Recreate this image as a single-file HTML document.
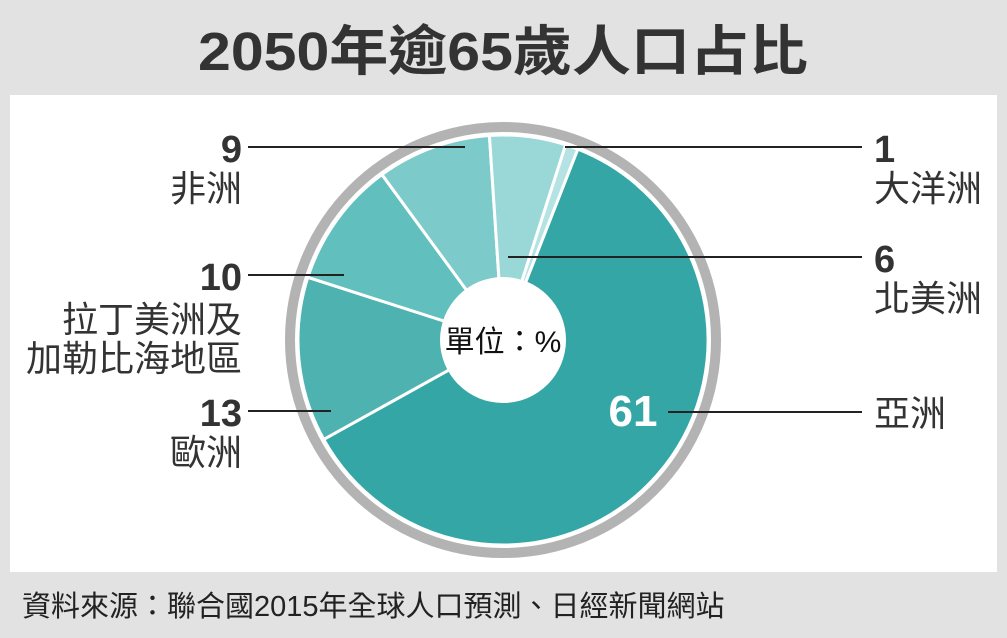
<!DOCTYPE html>
<html><head><meta charset="utf-8"><style>
body{margin:0;width:1007px;height:638px;background:#e2e2e2;overflow:hidden;font-family:"Liberation Sans","Noto Sans CJK TC",sans-serif;}
</style></head><body>
<svg width="1007" height="638" xmlns="http://www.w3.org/2000/svg" style="position:absolute;left:0;top:0">
<rect x="0" y="0" width="1007" height="638" fill="#e2e2e2"/>
<rect x="10" y="95" width="987" height="477" fill="#ffffff"/>
<text x="503" y="70" text-anchor="middle" font-size="54" font-weight="bold" fill="#333" textLength="610" lengthAdjust="spacingAndGlyphs">2050年逾65歲人口占比</text>
<circle cx="503" cy="340" r="213" fill="none" stroke="#b3b3b3" stroke-width="10"/>
<g id="slices" stroke="#fff" stroke-width="3"></g>
<circle cx="503" cy="340" r="63" fill="#fff"/>
<text x="503" y="352" text-anchor="middle" font-size="30" fill="#111">單位：%</text>
<text x="633" y="426" text-anchor="middle" font-size="44" font-weight="bold" fill="#fff">61</text>
<g stroke="#222" stroke-width="2">
<line x1="248" y1="147" x2="465" y2="147"/>
<line x1="565" y1="147" x2="862" y2="147"/>
<line x1="508" y1="257" x2="862" y2="257"/>
<line x1="668" y1="412" x2="862" y2="412"/>
<line x1="248" y1="275" x2="344" y2="275"/>
<line x1="248" y1="411" x2="331" y2="411"/>
</g>
<g font-size="38" font-weight="bold" fill="#333">
<text x="242" y="162" text-anchor="end">9</text>
<text x="242" y="290" text-anchor="end">10</text>
<text x="242" y="426" text-anchor="end">13</text>
<text x="874" y="162">1</text>
<text x="874" y="272">6</text>
</g>
<g font-size="36" fill="#333">
<text x="242" y="201" text-anchor="end">非洲</text>
<text x="242" y="332" text-anchor="end">拉丁美洲及</text>
<text x="242" y="371" text-anchor="end">加勒比海地區</text>
<text x="242" y="465" text-anchor="end">歐洲</text>
<text x="874" y="201">大洋洲</text>
<text x="874" y="311">北美洲</text>
<text x="874" y="426">亞洲</text>
</g>
<text x="22" y="616" font-size="29" fill="#222">資料來源：聯合國2015年全球人口預測、日經新聞網站</text>
</svg>
<script>
var cx=503,cy=340,r=205;
var s=[[21.4,241,"#35a6a6"],[241,287.8,"#4db2b0"],[287.8,323.8,"#61bfbd"],[323.8,356.2,"#7ccaca"],[356.2,377.8,"#9ad8d8"],[377.8,381.4,"#b5e3e3"]];
var g=document.getElementById("slices"),h="";
function pt(a){a=a*Math.PI/180;return (cx+r*Math.sin(a)).toFixed(2)+","+(cy-r*Math.cos(a)).toFixed(2);}
s.forEach(function(e){var large=(e[1]-e[0])>180?1:0;
h+='<path d="M'+cx+','+cy+' L'+pt(e[0])+' A'+r+','+r+' 0 '+large+' 1 '+pt(e[1])+' Z" fill="'+e[2]+'"/>';});
g.innerHTML=h;
</script>
</body></html>
